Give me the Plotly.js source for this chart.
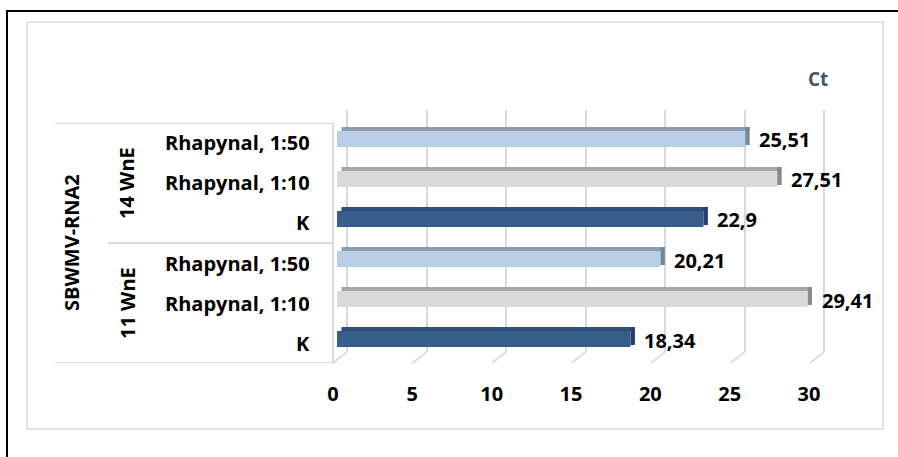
<!DOCTYPE html>
<html>
<head>
<meta charset="utf-8">
<script src="https://cdn.plot.ly/plotly-3.0.1.min.js"></script>
<style>html,body{margin:0;padding:0;background:#fff;}#chart{width:898px;height:457px;}</style>
</head>
<body>
<div id="chart"></div>
<script>
// ---- data (bottom to top) ----
const series = 'SBWMV-RNA2';
const groups = ['11 WnE', '11 WnE', '11 WnE', '14 WnE', '14 WnE', '14 WnE'];
const treatments = ['K', 'Rhapynal, 1:10', 'Rhapynal, 1:50', 'K', 'Rhapynal, 1:10', 'Rhapynal, 1:50'];
const values = [18.34, 29.41, 20.21, 22.9, 27.51, 25.51];
const tickValues = [0, 5, 10, 15, 20, 25, 30];
const axisTitle = 'Ct';

// ---- styles ----
const FONT = 'Open Sans';
const faceColor = {'K': '#385D8A', 'Rhapynal, 1:10': '#D9D9D9', 'Rhapynal, 1:50': '#B9CDE5'};
const topColor  = {'K': '#2F507A', 'Rhapynal, 1:10': '#A6A6A6', 'Rhapynal, 1:50': '#8E9DB0'};
const sideColor = {'K': '#233F66', 'Rhapynal, 1:10': '#8A8A8A', 'Rhapynal, 1:50': '#76869B'};
const depth = 0.28; // 3D depth in axis units
const W = 898, H = 457;
const px = v => v / W, py = v => 1 - v / H;

const keys = groups.map((g, i) => g + ' | ' + treatments[i]);

const traces = [
  // empty trace for the back-wall grid subplot
  {type: 'scatter', x: [], y: [], xaxis: 'x', yaxis: 'y', showlegend: false, hoverinfo: 'skip'},
  // top bevel
  {type: 'bar', orientation: 'h', y: keys, x: values, base: values.map(() => depth),
   width: 0.1, offset: 0.3, xaxis: 'x2', yaxis: 'y2',
   marker: {color: treatments.map(t => topColor[t]), line: {width: 0}}, hoverinfo: 'skip', showlegend: false},
  // end side
  {type: 'bar', orientation: 'h', y: keys, x: values.map(() => depth), base: values,
   width: 0.45, offset: -0.05, xaxis: 'x2', yaxis: 'y2',
   marker: {color: treatments.map(t => sideColor[t]), line: {width: 0}}, hoverinfo: 'skip', showlegend: false},
  // front face
  {type: 'bar', orientation: 'h', y: keys, x: values, base: 0,
   width: 0.4, offset: -0.1, xaxis: 'x2', yaxis: 'y2',
   marker: {color: treatments.map(t => faceColor[t]), line: {width: 0}}, hoverinfo: 'skip', showlegend: false},
  // empty trace to host the front tick-label axis
  {type: 'scatter', x: [], y: [], xaxis: 'x3', yaxis: 'y2', showlegend: false, hoverinfo: 'skip'}
];

const gridCol = '#D5DAE2';
const lineCol = '#D9DDE3';

const shapes = [
  // outer black frame (top and left edges visible)
  {type: 'line', xref: 'paper', yref: 'paper', x0: px(6), x1: 1, y0: py(11), y1: py(11),
   line: {color: '#000', width: 2}, layer: 'below'},
  {type: 'line', xref: 'paper', yref: 'paper', x0: px(7), x1: px(7), y0: py(10), y1: 0,
   line: {color: '#000', width: 2}, layer: 'below'},
  // inner light frame
  {type: 'rect', xref: 'paper', yref: 'paper', x0: px(27), x1: px(883), y0: py(22), y1: py(429),
   line: {color: '#D9DCE1', width: 1.5}, layer: 'below'},
  // category table lines
  {type: 'line', xref: 'paper', yref: 'y2', x0: px(55), x1: px(333), y0: 5.5, y1: 5.5, line: {color: lineCol, width: 2}, layer: 'below'},
  {type: 'line', xref: 'paper', yref: 'y2', x0: px(108), x1: px(333), y0: 2.5, y1: 2.5, line: {color: lineCol, width: 2}, layer: 'below'},
  {type: 'line', xref: 'paper', yref: 'y2', x0: px(55), x1: px(333), y0: -0.5, y1: -0.5, line: {color: lineCol, width: 2}, layer: 'below'},
  {type: 'line', xref: 'paper', yref: 'y2', x0: px(333), x1: px(333), y0: -0.5, y1: 5.5, line: {color: lineCol, width: 2}, layer: 'below'}
];
// floor diagonals from the back-wall grid to the front edge
tickValues.forEach(t => {
  shapes.push({type: 'line', xref: 'x', xsizemode: 'pixel', xanchor: t, x0: 0, x1: -14,
    yref: 'paper', y0: py(352), y1: py(363), line: {color: lineCol, width: 2}, layer: 'below'});
});

const annotations = [];
const bold = (size, color) => ({family: FONT, size: size, color: color || '#000', weight: 'bold'});
// value labels
values.forEach((v, i) => {
  annotations.push({xref: 'x2', yref: 'y2', x: v, y: keys[i], text: String(v).replace('.', ','),
    showarrow: false, xanchor: 'left', yanchor: 'middle', xshift: 12, yshift: 3, font: bold(20)});
});
// inner category labels
treatments.forEach((t, i) => {
  annotations.push({xref: 'paper', yref: 'y2', x: px(312), y: keys[i], text: t,
    showarrow: false, xanchor: 'right', yanchor: 'middle', font: bold(20)});
});
// group labels (rotated)
[...new Set(groups)].forEach(g => {
  const idx = groups.map((x, i) => x === g ? i : -1).filter(i => i >= 0);
  const mid = idx.reduce((a, b) => a + b, 0) / idx.length;
  annotations.push({xref: 'paper', yref: 'y2', x: px(127), y: mid, text: g, textangle: -90,
    showarrow: false, xanchor: 'center', yanchor: 'middle', font: bold(20)});
});
annotations.push({xref: 'paper', yref: 'y2', x: px(72), y: (keys.length - 1) / 2, text: series, textangle: -90,
  showarrow: false, xanchor: 'center', yanchor: 'middle', font: bold(20)});
// axis title
annotations.push({xref: 'paper', yref: 'paper', x: px(818), y: py(79), text: axisTitle,
  showarrow: false, xanchor: 'center', yanchor: 'middle', font: bold(19, '#44546A')});

const hidden = {showgrid: false, zeroline: false, showline: false, showticklabels: false, ticks: ''};

const layout = {
  width: W, height: H,
  margin: {l: 0, r: 0, t: 0, b: 0},
  paper_bgcolor: '#fff', plot_bgcolor: 'rgba(0,0,0,0)',
  showlegend: false, barmode: 'overlay',
  // back wall grid
  xaxis: Object.assign({}, hidden, {domain: [px(347 - 15.9), px(347 + 31 * 15.9)], range: [-1, 31],
    anchor: 'y', showgrid: true, gridcolor: gridCol, gridwidth: 2, tickmode: 'array', tickvals: tickValues}),
  yaxis: Object.assign({}, hidden, {domain: [py(352), py(110)], range: [0, 1], anchor: 'x'}),
  // bars
  xaxis2: Object.assign({}, hidden, {domain: [px(337), px(337 + 30 * 16)], range: [0, 30], anchor: 'y2'}),
  yaxis2: Object.assign({}, hidden, {domain: [py(363), py(123)], type: 'category',
    categoryorder: 'array', categoryarray: keys, range: [-0.5, keys.length - 0.5], anchor: 'x2'}),
  // front tick labels
  xaxis3: Object.assign({}, hidden, {domain: [px(333), px(809)], range: [0, 30], anchor: 'y2',
    showticklabels: true, tickmode: 'array', tickvals: tickValues, ticktext: tickValues.map(String),
    tickfont: bold(20), ticklabelstandoff: 17}),
  shapes: shapes,
  annotations: annotations
};

Plotly.newPlot('chart', traces, layout, {staticPlot: true, displayModeBar: false});
</script>
</body>
</html>
